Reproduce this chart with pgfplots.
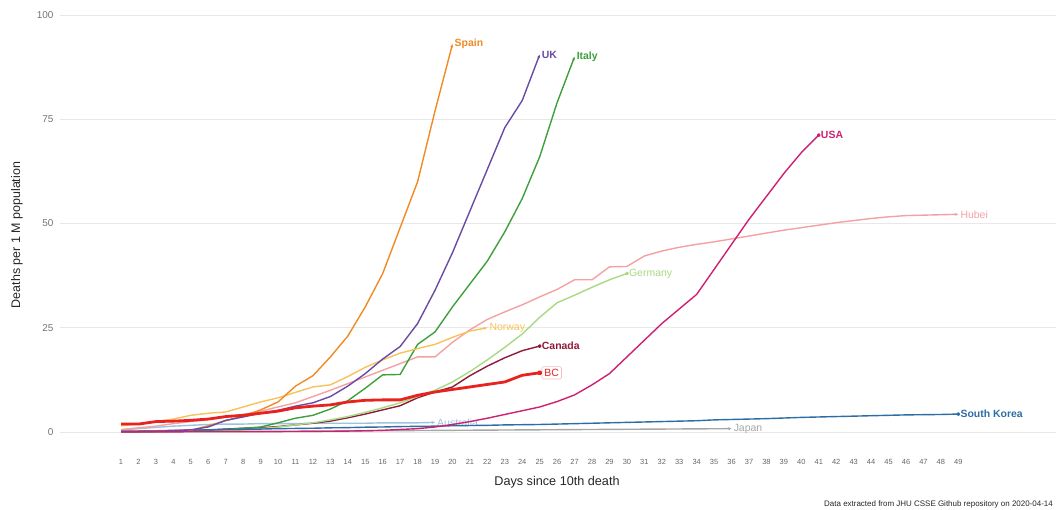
\documentclass[border=0pt]{standalone}
\usepackage{fontspec}
\setmainfont{Liberation Sans}
\usepackage{pgfplots}
\pgfplotsset{compat=1.18}
\usetikzlibrary{arrows.meta}

\definecolor{spain}{HTML}{F08A24}
\definecolor{uk}{HTML}{6A4BA3}
\definecolor{italy}{HTML}{3DA03A}
\definecolor{usa}{HTML}{CC2172}
\definecolor{hubei}{HTML}{F4A1A4}
\definecolor{germany}{HTML}{A8D983}
\definecolor{norway}{HTML}{F7C25B}
\definecolor{canada}{HTML}{8E1B3A}
\definecolor{bc}{HTML}{E8221E}
\definecolor{skorea}{HTML}{2E6DA4}
\definecolor{japan}{HTML}{A6A6A6}
\definecolor{australia}{HTML}{9CC3DE}

\tikzset{
  lbl/.style={anchor=west, inner sep=1.5bp, font=\fontsize{10.5}{12}\selectfont},
  arr/.style={-{Stealth[length=3.5bp,width=3bp]}},
  dot/.style={mark=*, mark size=1.2bp},
}

\begin{document}
\begin{tikzpicture}
\useasboundingbox (-60bp,-65.5bp) rectangle (996bp,444.5bp);
\begin{axis}[
  scale only axis,
  width=996bp, height=429.5bp,
  xmin=-2.5, xmax=54.6, ymin=-3, ymax=100,
  axis line style={draw=none},
  major tick length=0pt,
  xtick={1,...,49}, ytick={0,25,50,75,100},
  ymajorgrids,
  grid style={draw=black!9, line width=0.7bp},
  /pgf/number format/assume math mode=true,
  xticklabel style={font=\fontsize{7.5}{9}\selectfont, text=black!60, yshift=-11bp},
  yticklabel style={font=\fontsize{10}{12}\selectfont, text=black!55, xshift=-3bp},
  clip=false,
  every axis plot/.append style={line width=1.4bp, line join=round},
]
% Australia
\addplot[australia, arr] coordinates {(1,0.5)(2,0.8)(3,1.1)(4,1.4)(5,1.6)(6,1.8)(7,1.9)(8,1.9)(9,2.0)(10,2.0)(11,2.0)(12,2.1)(13,2.1)(14,2.1)(15,2.1)(16,2.2)(17,2.2)(18,2.2)(19,2.3)}
  node[pos=1, lbl, text=australia] {Australia};
% Canada
\addplot[canada, dot, mark indices={25}] coordinates {(1,0.1)(2,0.1)(3,0.2)(4,0.3)(5,0.4)(6,0.5)(7,0.7)(8,0.9)(9,1)(10,1.3)(11,1.7)(12,2.1)(13,2.6)(14,3.4)(15,4.3)(16,5.3)(17,6.3)(18,8.2)(19,9.6)(20,10.8)(21,13.5)(22,15.8)(23,17.8)(24,19.5)(25,20.6)}
  node[pos=1, lbl, text=canada] {\bfseries Canada};
% Germany
\addplot[germany, dot, mark indices={30}] coordinates {(1,0)(2,0)(3,0.05)(4,0.1)(5,0.15)(6,0.2)(7,0.3)(8,0.5)(9,0.8)(10,1.2)(11,1.7)(12,2.2)(13,2.9)(14,3.7)(15,4.7)(16,5.8)(17,7)(18,8.5)(19,10)(20,12)(21,14.5)(22,17.3)(23,20.3)(24,23.5)(25,27.5)(26,31)(27,32.8)(28,34.7)(29,36.5)(30,38)}
  node[pos=1, lbl, text=germany] {Germany};
% Hubei
\addplot[hubei, arr] coordinates {(1,0.6)(2,1)(3,1.4)(4,2)(5,2.5)(6,3)(7,3.6)(8,4.2)(9,5)(10,6)(11,7)(12,8.5)(13,10)(14,11.6)(15,13.2)(16,14.8)(17,16.4)(18,18)(19,18)(20,21.5)(21,24.5)(22,27)(23,28.8)(24,30.5)(25,32.4)(26,34.2)(27,36.5)(28,36.5)(29,39.6)(30,39.7)(31,42.2)(32,43.4)(33,44.3)(34,45)(35,45.6)(36,46.3)(37,47)(38,47.7)(39,48.4)(40,49)(41,49.6)(42,50.2)(43,50.7)(44,51.2)(45,51.6)(46,51.9)(47,52)(48,52.1)(49,52.2)}
  node[pos=1, lbl, text=hubei] {Hubei};
% Italy
\addplot[italy, arr] coordinates {(1,0)(2,0.05)(3,0.1)(4,0.2)(5,0.3)(6,0.4)(7,0.6)(8,0.9)(9,1.2)(10,2.2)(11,3.3)(12,4)(13,5.5)(14,7.5)(15,10.5)(16,13.7)(17,13.8)(18,21)(19,24)(20,30)(21,35.5)(22,41)(23,48)(24,56)(25,66)(26,79)(27,90)}
  node[pos=1, lbl, text=italy] {\bfseries Italy};
% Japan
\addplot[japan, arr] coordinates {(1,0.05)(4,0.1)(8,0.15)(12,0.2)(16,0.3)(20,0.4)(24,0.5)(28,0.6)(32,0.7)(36,0.8)}
  node[pos=1, lbl, text=japan] {Japan};
% Norway
\addplot[norway, arr] coordinates {(1,1.5)(2,1.9)(3,2.5)(4,3.1)(5,4)(6,4.5)(7,4.8)(8,6)(9,7.2)(10,8.2)(11,9.5)(12,10.8)(13,11.3)(14,13.3)(15,15.5)(16,17.3)(17,18.9)(18,20)(19,21)(20,22.7)(21,24.2)(22,25)}
  node[pos=1, lbl, text=norway] {Norway};
% South Korea
\addplot[skorea, dot, mark indices={49}] coordinates {(1,0.2)(2,0.25)(3,0.3)(4,0.4)(5,0.45)(6,0.5)(7,0.6)(8,0.65)(9,0.7)(10,0.8)(11,0.85)(12,0.9)(13,1)(14,1.05)(15,1.15)(16,1.2)(17,1.3)(18,1.35)(19,1.4)(20,1.5)(21,1.55)(22,1.6)(23,1.7)(24,1.75)(25,1.8)(26,1.9)(27,2)(28,2.1)(29,2.2)(30,2.3)(31,2.4)(32,2.5)(33,2.6)(34,2.7)(35,2.9)(36,3)(37,3.1)(38,3.2)(39,3.35)(40,3.5)(41,3.6)(42,3.7)(43,3.8)(44,3.9)(45,4)(46,4.1)(47,4.15)(48,4.2)(49,4.3)}
  node[pos=1, lbl, text=skorea] {\bfseries South Korea};
% Spain
\addplot[spain, arr] coordinates {(1,0.1)(2,0.15)(3,0.2)(4,0.3)(5,0.4)(6,1.5)(7,2.7)(8,3.8)(9,5.3)(10,7.2)(11,11)(12,13.5)(13,18)(14,23)(15,30)(16,38)(17,49)(18,60)(19,77)(20,93)}
  node[pos=1, lbl, text=spain] {\bfseries Spain};
% UK
\addplot[uk, arr] coordinates {(1,0.1)(2,0.1)(3,0.2)(4,0.3)(5,0.5)(6,1.2)(7,2.8)(8,3.6)(9,4.5)(10,5.2)(11,6.2)(12,7)(13,8.5)(14,11)(15,14)(16,17.5)(17,20.5)(18,26)(19,34)(20,43)(21,53)(22,63)(23,73)(24,79.5)(25,90.5)}
  node[pos=1, lbl, text=uk] {\bfseries UK};
% USA
\addplot[usa, dot, mark indices={41}] coordinates {(1,0.02)(2,0.02)(3,0.03)(4,0.04)(5,0.05)(6,0.06)(7,0.07)(8,0.08)(9,0.09)(10,0.1)(11,0.12)(12,0.15)(13,0.18)(14,0.22)(15,0.3)(16,0.4)(17,0.6)(18,0.8)(19,1.2)(20,1.8)(21,2.5)(22,3.3)(23,4.2)(24,5.1)(25,6)(26,7.3)(27,8.9)(28,11.3)(29,14)(30,18)(31,22)(32,26)(33,29.5)(34,33)(35,39)(36,45)(37,51)(38,56.5)(39,62)(40,67)(41,71.2)}
  node[pos=1, lbl, text=usa] {\bfseries USA};
% BC
\addplot[bc, line width=2.8bp, dot, mark indices={25}] coordinates {(1,1.9)(2,1.9)(3,2.5)(4,2.6)(5,2.8)(6,3.1)(7,3.7)(8,4.0)(9,4.5)(10,5.0)(11,5.8)(12,6.2)(13,6.5)(14,7.2)(15,7.6)(16,7.7)(17,7.7)(18,8.8)(19,9.6)(20,10.2)(21,10.8)(22,11.4)(23,12)(24,13.6)(25,14.2)}
  node[pos=1, anchor=west, xshift=2bp, draw=hubei!70, line width=0.6bp, fill=white, rounded corners=1.5bp, inner sep=2.5bp, font=\fontsize{10.5}{12}\selectfont, text=bc] {BC};
\end{axis}
\node[rotate=90, font=\fontsize{12.5}{15}\selectfont, text=black!85] at (-43bp,209.5bp) {Deaths per 1 M population};
\node[font=\fontsize{12.7}{15}\selectfont, text=black!85] at (497bp,-37.5bp) {Days since 10th death};
\node[anchor=east, font=\fontsize{8}{10}\selectfont, text=black!85, inner sep=0pt] at (993bp,-59.5bp) {Data extracted from JHU CSSE Github repository on 2020-04-14};
\end{tikzpicture}
\end{document}
